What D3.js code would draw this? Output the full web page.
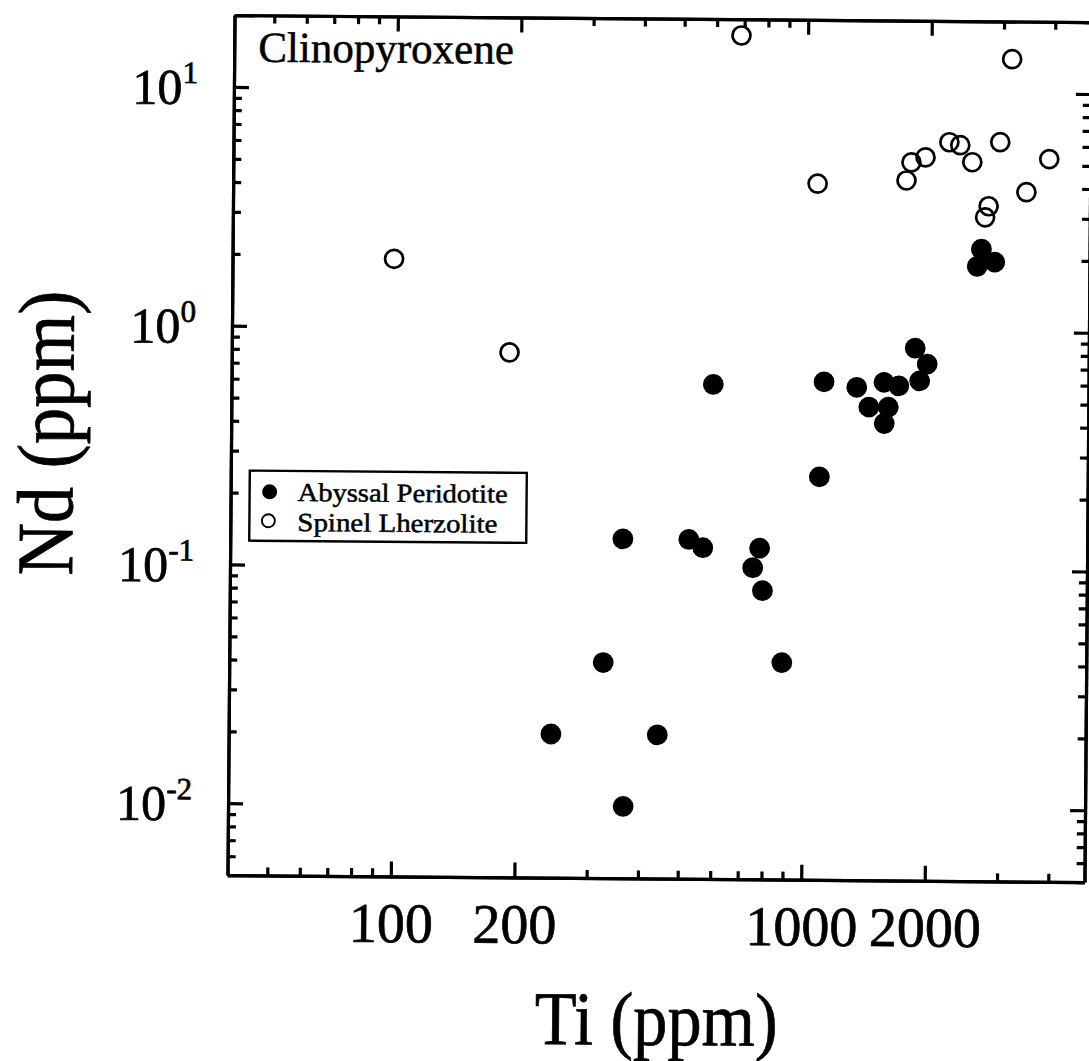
<!DOCTYPE html>
<html>
<head>
<meta charset="utf-8">
<script src="https://cdn.jsdelivr.net/npm/d3@7"></script>
<style>
  html, body { margin: 0; padding: 0; background: #fff; }
  svg { display: block; }
  text { font-family: "Liberation Serif", "Times New Roman", Times, serif; fill: #000; }
  .axis .domain { stroke: #000; stroke-width: 3.2; }
  .axis .tick line { stroke: #000; stroke-width: 3.2; }
  .heavy { stroke: #000; stroke-width: 0.7; }
</style>
</head>
<body>
<svg id="chart" width="1089" height="1061"></svg>
<script>
// ---- data ----
const abyssalTi = [2670, 2610, 2880, 597, 1111, 1850, 1980, 1900, 1555, 1690, 1335, 1430, 1595, 1560, 1087, 362, 524, 567, 780, 751, 794, 326, 888, 244, 443, 367];
const abyssalNd = [2.22, 1.88, 1.96, 0.59, 0.61, 0.85, 0.73, 0.62, 0.61, 0.59, 0.58, 0.48, 0.48, 0.41, 0.244, 0.132, 0.132, 0.122, 0.122, 0.101, 0.081, 0.040, 0.0405, 0.020, 0.020, 0.010];
const spinelTi = [99, 190, 688, 3145, 1062, 1748, 1796, 1943, 2220, 2360, 2527, 2953, 3890, 3428, 2775, 2722];
const spinelNd = [1.93, 0.79, 17.1, 13.9, 4.12, 4.28, 5.10, 5.36, 6.21, 6.04, 5.13, 6.24, 5.32, 3.86, 3.36, 3.02];

const tiDomain = [40, 4900];
const ndDomain = [0.005, 20];
const tiMajor = [100, 200, 1000, 2000];
const tiMajorLabels = ["100", "200", "1000", "2000"];
const tiMinor = [50, 60, 70, 80, 90, 300, 400, 500, 600, 700, 800, 900, 3000, 4000];
const ndMajor = [0.01, 0.1, 1, 10];
const ndMajorExp = ["-2", "-1", "0", "1"];
const ndMinor = [0.005, 0.006, 0.007, 0.008, 0.009,
                 0.02, 0.03, 0.04, 0.05, 0.06, 0.07, 0.08, 0.09,
                 0.2, 0.3, 0.4, 0.5, 0.6, 0.7, 0.8, 0.9,
                 2, 3, 4, 5, 6, 7, 8, 9, 20];
const seriesNames = ["Abyssal Peridotite", "Spinel Lherzolite"];
const panelTitle = "Clinopyroxene";
const xTitle = "Ti (ppm)";
const yTitle = "Nd (ppm)";

// ---- layout ----
const pLeft = 231, pRight = 1088, pTop = 18.6, pBottom = 878.6;
const cx0 = (pLeft + pRight) / 2, cy0 = (pTop + pBottom) / 2;
const svg = d3.select("#chart");
// the scanned original is tilted slightly clockwise
const root = svg.append("g").attr("transform", `rotate(0.47,${cx0},${cy0})`);

const x = d3.scaleLog().domain(tiDomain).range([pLeft, pRight]);
const y = d3.scaleLog().domain(ndDomain).range([pBottom, pTop]);

const majLen = 15, minLen = 8;
const serif = "Liberation Serif, Times New Roman, serif";

// bottom axis
root.append("g").attr("class", "axis").attr("transform", `translate(0,${pBottom})`)
  .call(d3.axisBottom(x).tickValues(tiMinor).tickSizeInner(-minLen).tickSizeOuter(0).tickFormat(""));
const xb = root.append("g").attr("class", "axis").attr("transform", `translate(0,${pBottom})`)
  .call(d3.axisBottom(x).tickValues(tiMajor).tickSizeInner(-majLen).tickSizeOuter(0).tickPadding(26)
    .tickFormat((d, i) => tiMajorLabels[i]));
xb.selectAll(".tick text").attr("font-size", 56).attr("font-family", serif).attr("class", "heavy");

// top axis
root.append("g").attr("class", "axis").attr("transform", `translate(0,${pTop})`)
  .call(d3.axisTop(x).tickValues(tiMinor).tickSizeInner(-minLen).tickSizeOuter(0).tickFormat(""));
root.append("g").attr("class", "axis").attr("transform", `translate(0,${pTop})`)
  .call(d3.axisTop(x).tickValues(tiMajor).tickSizeInner(-majLen).tickSizeOuter(0).tickFormat(""));

// left axis
root.append("g").attr("class", "axis").attr("transform", `translate(${pLeft},0)`)
  .call(d3.axisLeft(y).tickValues(ndMinor).tickSizeInner(-minLen).tickSizeOuter(0).tickFormat(""));
const yl = root.append("g").attr("class", "axis").attr("transform", `translate(${pLeft},0)`)
  .call(d3.axisLeft(y).tickValues(ndMajor).tickSizeInner(-majLen).tickSizeOuter(0).tickPadding(36)
    .tickFormat(() => ""));
yl.selectAll(".tick text")
  .attr("font-size", 50)
  .attr("font-family", serif)
  .attr("class", "heavy")
  .attr("dy", "0.34em")
  .each(function(d, i) {
    const t = d3.select(this);
    t.append("tspan").text("10");
    t.append("tspan").attr("font-size", 31).attr("dy", -21).text(ndMajorExp[i]);
  });

// right axis
root.append("g").attr("class", "axis").attr("transform", `translate(${pRight},0)`)
  .call(d3.axisRight(y).tickValues(ndMinor).tickSizeInner(-minLen).tickSizeOuter(0).tickFormat(""));
root.append("g").attr("class", "axis").attr("transform", `translate(${pRight},0)`)
  .call(d3.axisRight(y).tickValues(ndMajor).tickSizeInner(-majLen).tickSizeOuter(0).tickFormat(""));

// ---- points ----
const abyssal = abyssalTi.map((t, i) => ({ ti: t, nd: abyssalNd[i] }));
const spinel = spinelTi.map((t, i) => ({ ti: t, nd: spinelNd[i] }));

root.append("g").selectAll("circle").data(spinel).join("circle")
  .attr("cx", d => x(d.ti)).attr("cy", d => y(d.nd)).attr("r", 9)
  .attr("fill", "none").attr("stroke", "#000").attr("stroke-width", 2.7);

root.append("g").selectAll("circle").data(abyssal).join("circle")
  .attr("cx", d => x(d.ti)).attr("cy", d => y(d.nd)).attr("r", 10.4)
  .attr("fill", "#000");

// ---- panel title ----
root.append("text").attr("x", 255).attr("y", 65).attr("font-size", 43)
  .attr("class", "heavy").attr("style", "stroke-width:0.5").text(panelTitle);

// ---- legend ----
const lg = root.append("g");
lg.append("rect").attr("x", 250).attr("y", 474).attr("width", 277).attr("height", 70)
  .attr("fill", "#fff").attr("stroke", "#000").attr("stroke-width", 2.4);
lg.append("circle").attr("cx", 270).attr("cy", 495).attr("r", 7.5).attr("fill", "#000");
lg.append("text").attr("x", 298).attr("y", 504).attr("font-size", 26)
  .attr("textLength", 210).attr("lengthAdjust", "spacingAndGlyphs")
  .attr("class", "heavy").attr("style", "stroke-width:0.5").text(seriesNames[0]);
lg.append("circle").attr("cx", 269).attr("cy", 524).attr("r", 6.5)
  .attr("fill", "none").attr("stroke", "#000").attr("stroke-width", 1.9);
lg.append("text").attr("x", 298).attr("y", 534).attr("font-size", 26)
  .attr("textLength", 200).attr("lengthAdjust", "spacingAndGlyphs")
  .attr("class", "heavy").attr("style", "stroke-width:0.5").text(seriesNames[1]);

// ---- axis titles ----
root.append("text").attr("x", 661).attr("y", 1045).attr("text-anchor", "middle")
  .attr("font-size", 76).attr("textLength", 243).attr("lengthAdjust", "spacingAndGlyphs")
  .attr("class", "heavy").text(xTitle);
root.append("text").attr("transform", "translate(73,438) rotate(-90)").attr("text-anchor", "middle")
  .attr("font-size", 80).attr("textLength", 285).attr("lengthAdjust", "spacingAndGlyphs")
  .attr("class", "heavy").text(yTitle);
</script>
</body>
</html>
